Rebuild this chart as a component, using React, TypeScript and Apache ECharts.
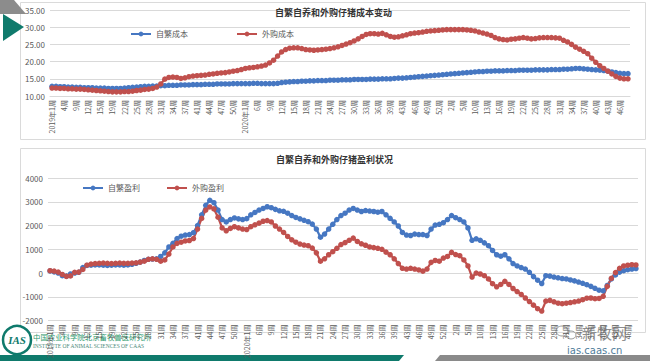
import React, { useEffect, useRef } from "react";
import * as echarts from "echarts";

const weeks2019 = [1,2,3,4,7,8,9,10,11,12,13,14,15,16,18,19,20,21,22,23,24,25,26,27,28,29,30,31,32,33,34,35,36,37,38,40,41,42,43,44,45,46,47,48,49,50,51,52];
const weeks2020 = [1,2,3,6,7,8,9,10,11,12,13,14,15,16,17,18,19,20,21,22,23,24,25,26,27,28,29,30,31,32,33,34,35,36,37,38,39,40,42,43,44,45,46,47,48,49,50,51,52,53];
const weeks2021 = [1,2,3,4,5,8,9,10,11,12,13,14,15,16,17,18,19,20,21,22,23,24,25,26,27,28,29,30,31,32,33,34,35,36,37,38,39,40,41,42,43,44,45,46,47,48];

const categories: string[] = [];
[[2019, weeks2019], [2020, weeks2020], [2021, weeks2021]].forEach(([y, ws]: any) => {
  ws.forEach((w: number) => categories.push(w === 1 ? `${y}年1周` : `${w}周`));
});

const costSelf = [
  12.8, 12.8, 12.7, 12.7, 12.6, 12.6, 12.5, 12.5, 12.4, 12.4,
  12.4, 12.3, 12.3, 12.3, 12.2, 12.2, 12.2, 12.2, 12.3, 12.4,
  12.5, 12.6, 12.7, 12.8, 12.8, 12.9, 12.9, 13.0, 13.0, 13.1,
  13.1, 13.1, 13.2, 13.2, 13.2, 13.3, 13.3, 13.3, 13.4, 13.4,
  13.4, 13.5, 13.5, 13.5, 13.5, 13.6, 13.6, 13.6, 13.6, 13.6,
  13.7, 13.7, 13.6, 13.6, 13.6, 13.6, 13.7, 13.9, 14.0, 14.1,
  14.2, 14.2, 14.3, 14.3, 14.4, 14.4, 14.5, 14.5, 14.5, 14.6,
  14.6, 14.6, 14.7, 14.7, 14.7, 14.8, 14.8, 14.8, 14.8, 14.9,
  14.9, 14.9, 15.0, 15.0, 15.0, 15.1, 15.2, 15.2, 15.3, 15.4,
  15.5, 15.6, 15.7, 15.8, 15.9, 16.0, 16.1, 16.2, 16.3, 16.4,
  16.5, 16.6, 16.7, 16.8, 16.9, 17.0, 17.1, 17.1, 17.2, 17.2,
  17.3, 17.3, 17.3, 17.4, 17.4, 17.4, 17.5, 17.5, 17.5, 17.5,
  17.6, 17.6, 17.6, 17.6, 17.7, 17.7, 17.7, 17.8, 17.8, 17.9,
  18.0, 18.0, 17.9, 17.8, 17.7, 17.6, 17.5, 17.4, 17.2, 17.0,
  16.8, 16.6, 16.5, 16.5
];

const costBought = [
  12.3, 12.3, 12.2, 12.2, 12.1, 12.1, 12.0, 12.0, 11.9, 11.8,
  11.7, 11.6, 11.5, 11.4, 11.3, 11.2, 11.2, 11.2, 11.3, 11.3,
  11.4, 11.6, 11.7, 11.9, 12.0, 12.2, 12.6, 13.5, 14.9, 15.4,
  15.5, 15.4, 15.1, 15.3, 15.6, 15.8, 15.9, 16.0, 16.1, 16.3,
  16.4, 16.6, 16.7, 16.8, 17.0, 17.2, 17.4, 17.7, 18.0, 18.2,
  18.3, 18.5, 18.7, 19.0, 19.6, 20.4, 21.6, 22.8, 23.5, 23.9,
  24.0, 24.0, 23.8, 23.5, 23.4, 23.3, 23.4, 23.5, 23.6, 23.8,
  24.0, 24.3, 24.7, 25.1, 25.5, 26.0, 26.6, 27.3, 27.9, 28.1,
  28.1, 28.0, 28.2, 27.8, 27.3, 27.1, 27.2, 27.5, 27.8, 28.1,
  28.3, 28.4, 28.6, 28.8, 28.9, 29.0, 29.1, 29.2, 29.3, 29.3,
  29.3, 29.3, 29.3, 29.2, 29.1, 28.9, 28.6, 28.3, 28.0, 27.6,
  27.0, 26.6, 26.4, 26.3, 26.5, 26.6, 26.8, 27.0, 26.8, 26.6,
  26.7, 26.9, 27.0, 27.0, 27.0, 26.9, 26.8, 26.2, 25.7, 25.0,
  24.2, 23.6, 23.0, 22.3, 21.0, 19.8, 18.8, 18.0, 17.2, 16.4,
  15.7, 15.2, 15.0, 15.0
];

const profitSelf = [
  90, 50, 0, -110, -130, -40, 0, 30, 230, 320,
  330, 340, 340, 330, 320, 330, 340, 340, 330, 340,
  370, 410, 460, 530, 580, 590, 600, 700, 850, 1100,
  1250, 1450, 1550, 1600, 1620, 1700, 2000, 2450, 2850, 3060,
  2960, 2650, 2250, 2150, 2250, 2320, 2280, 2250, 2290, 2450,
  2550, 2650, 2720, 2790, 2750, 2680, 2620, 2600, 2520, 2420,
  2340, 2280, 2220, 2160, 2060, 1850, 1510, 1640, 1850, 2050,
  2250, 2420, 2520, 2650, 2720, 2650, 2590, 2630, 2610, 2590,
  2560, 2590, 2450, 2300, 2150, 1980, 1710, 1600, 1580, 1640,
  1620, 1620, 1580, 1850, 2020, 2050, 2120, 2250, 2420, 2330,
  2250, 2150, 1900, 1380, 1440, 1380, 1270, 1150, 950, 770,
  710, 770, 600, 400, 300, 230, 170, 30, -150, -300,
  -440, -110, -130, -170, -200, -230, -250, -290, -330, -380,
  -430, -490, -560, -640, -720, -750, -520, -250, -80, 40,
  100, 140, 170, 190
];

const profitBought = [
  100, 80, 40, -60, -140, -120, 30, 40, 150, 330,
  380, 400, 410, 420, 410, 400, 410, 420, 410, 410,
  420, 430, 460, 500, 580, 600, 580, 500, 550, 800,
  1100, 1250, 1300, 1350, 1370, 1450, 1850, 2300, 2650, 2780,
  2700, 2350, 1900, 1780, 1880, 1950, 1900, 1850, 1830, 1950,
  2030, 2100, 2180, 2210, 2150, 1980, 1850, 1710, 1540, 1400,
  1300, 1220, 1180, 1150, 1050, 850, 500, 600, 770, 900,
  1040, 1200, 1280, 1380, 1470, 1330, 1230, 1170, 1100, 1070,
  1040, 1000, 880, 770, 600, 400, 200, 170, 200, 170,
  130, 80, 170, 450, 530, 500, 630, 700, 870, 780,
  730, 550, 300, -170, 0, -40, -110, -250, -450, -580,
  -480, -350, -480, -650, -780, -900, -1050, -1200, -1350, -1500,
  -1600, -1180, -1150, -1210, -1270, -1290, -1270, -1240, -1210, -1180,
  -1120, -1060, -1050, -1080, -1070, -980, -560, -220, 20, 200,
  300, 330, 350, 340
];

const BLUE = "#4677C2";
const RED = "#C0504D";
const TEAL = "#0F7A6C";
const FONT = "'Noto Sans CJK SC', 'Noto Sans', sans-serif";

function lineSeries(name: string, data: number[], color: string, idx: number) {
  return {
    name,
    type: "line",
    xAxisIndex: idx,
    yAxisIndex: idx,
    data,
    symbol: "circle",
    symbolSize: 5.5,
    showAllSymbol: true,
    itemStyle: { color },
    lineStyle: { color, width: 2.25 },
  };
}

function xAxisCfg(idx: number) {
  return {
    type: "category",
    gridIndex: idx,
    data: categories,
    boundaryGap: true,
    axisTick: { show: false },
    axisLine: { lineStyle: { color: "#D9D9D9" } },
    axisLabel: { rotate: 90, interval: 2, fontSize: 7, color: "#595959", fontFamily: FONT, margin: 4 },
  };
}

export default function App() {
  const ref = useRef<HTMLDivElement>(null);
  useEffect(() => {
    document.body.style.margin = "0";
    const chart = echarts.init(ref.current!, null, { renderer: "svg" });
    const option: any = {
      animation: false,
      backgroundColor: "#ffffff",
      textStyle: { fontFamily: FONT },
      title: [
        { text: "自繁自养和外购仔猪成本变动", left: 270, top: 3, textStyle: { fontSize: 9, fontWeight: "bold", color: "#333333", fontFamily: FONT } },
        { text: "自繁自养和外购仔猪盈利状况", left: 271, top: 150, textStyle: { fontSize: 9, fontWeight: "bold", color: "#333333", fontFamily: FONT } },
      ],
      legend: [
        { data: ["自繁成本", "外购成本"], left: 125, top: 25, itemWidth: 20, itemHeight: 6, itemGap: 48, textStyle: { fontSize: 8, color: "#595959" } },
        { data: ["自繁盈利", "外购盈利"], left: 77, top: 179, itemWidth: 20, itemHeight: 6, itemGap: 26, textStyle: { fontSize: 8, color: "#595959" } },
      ],
      grid: [
        { left: 50, top: 10, width: 580, height: 86 },
        { left: 48, top: 178, width: 590, height: 149 },
      ],
      xAxis: [xAxisCfg(0), xAxisCfg(1)],
      yAxis: [
        {
          type: "value", gridIndex: 0, min: 10, max: 35, interval: 5,
          axisLine: { show: false }, axisTick: { show: false },
          axisLabel: { formatter: (v: number) => v.toFixed(2), fontSize: 8, color: "#595959", margin: 5 },
          splitLine: { lineStyle: { color: "#D9D9D9" } },
        },
        {
          type: "value", gridIndex: 1, min: -2000, max: 4000, interval: 1000,
          axisLine: { show: false }, axisTick: { show: false },
          axisLabel: { formatter: (v: number) => String(v), fontSize: 8, color: "#595959", margin: 5 },
          splitLine: { lineStyle: { color: "#D9D9D9" } },
        },
      ],
      series: [
        lineSeries("自繁成本", costSelf, BLUE, 0),
        lineSeries("外购成本", costBought, RED, 0),
        lineSeries("自繁盈利", profitSelf, BLUE, 1),
        lineSeries("外购盈利", profitBought, RED, 1),
      ],
      graphic: [
        { type: "rect", z: -10, shape: { x: 20.5, y: 2.5, width: 625, height: 137 }, style: { fill: "transparent", stroke: "#DADADA", lineWidth: 1 } },
        { type: "rect", z: -10, shape: { x: 20.5, y: 148.5, width: 625, height: 184 }, style: { fill: "transparent", stroke: "#DADADA", lineWidth: 1 } },
        { type: "polygon", shape: { points: [[0, 0], [14, 0], [26, 14], [0, 14]] }, style: { fill: "#8C8C8C" } },
        { type: "polygon", shape: { points: [[3, 14], [24, 27], [3, 41]] }, style: { fill: TEAL } },
        { type: "polygon", shape: { points: [[0, 355], [404, 355], [399, 361], [0, 361]] }, style: { fill: TEAL } },
        { type: "polygon", shape: { points: [[440, 355], [650, 355], [650, 361], [435, 361]] }, style: { fill: "#8A8A8A" } },
        { type: "circle", shape: { cx: 17, cy: 340, r: 14 }, style: { fill: "#ffffff", stroke: TEAL, lineWidth: 2.5 } },
        { type: "text", x: 17, y: 340, style: { text: "IAS", fill: TEAL, font: "italic bold 11px 'Liberation Serif', serif", align: "center", verticalAlign: "middle" } },
        { type: "text", x: 33, y: 333, style: { text: "中国农业科学院北京畜牧兽医研究所", fill: "#2E9A6E", font: `7.4px ${FONT}` } },
        { type: "text", x: 33, y: 343, style: { text: "INSTITUTE OF ANIMAL SCIENCES OF CAAS", fill: "#4B8A78", font: "5.5px 'Liberation Serif', serif" } },
        { type: "ellipse", shape: { cx: 562, cy: 331, rx: 6, ry: 5 }, style: { fill: "none", stroke: "#9A9A9A", lineWidth: 1 } },
        { type: "ellipse", shape: { cx: 571, cy: 335, rx: 5, ry: 4 }, style: { fill: "none", stroke: "#9A9A9A", lineWidth: 1 } },
        { type: "text", x: 582, y: 325, style: { text: "新牧网", fill: "#8E8E8E", font: `15px ${FONT}` } },
        { type: "text", x: 567, y: 345, style: { text: "ias.caas.cn", fill: "#4F7C9A", font: "10px 'DejaVu Sans', sans-serif" } },
      ],
    };
    chart.setOption(option);
    return () => chart.dispose();
  }, []);
  return <div ref={ref} style={{ width: 650, height: 361 }} />;
}
